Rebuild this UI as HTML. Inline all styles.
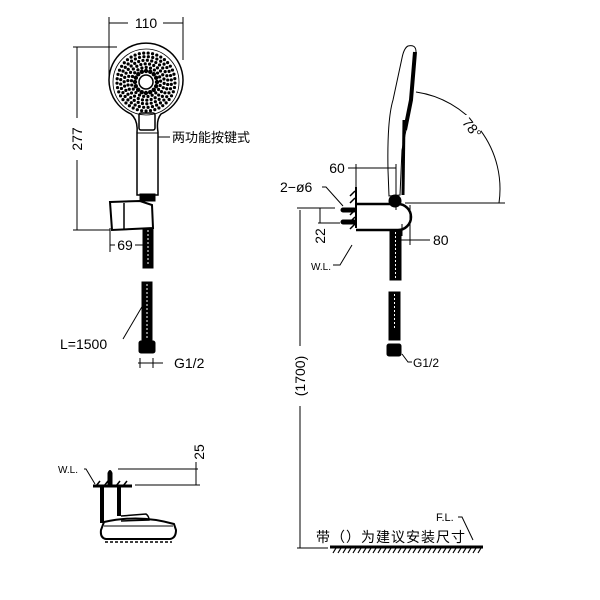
<!DOCTYPE html>
<html><head><meta charset="utf-8"><style>
html,body{margin:0;padding:0;background:#fff;width:600px;height:600px;overflow:hidden}
text{font-family:"Liberation Sans","Noto Sans CJK SC",sans-serif;fill:#000}
</style></head><body>
<svg id="s" width="600" height="600" viewBox="0 0 600 600" xmlns="http://www.w3.org/2000/svg" fill="none" stroke="#000" stroke-width="1">
<!-- FRONT VIEW -->
<line x1="109" y1="17" x2="109" y2="78"/><line x1="183" y1="17" x2="183" y2="60"/>
<line x1="109" y1="23" x2="128" y2="23"/><line x1="163" y1="23" x2="183" y2="23"/>
<text x="146" y="28" font-size="14" text-anchor="middle" stroke="none">110</text>
<line x1="73" y1="47" x2="117" y2="47"/><line x1="73" y1="230" x2="110" y2="230"/>
<line x1="77" y1="47" x2="77" y2="118"/><line x1="77" y1="160" x2="77" y2="230"/>
<text transform="translate(82,139) rotate(-90)" font-size="14" text-anchor="middle" stroke="none">277</text>
<path d="M131,114 A37,37 0 1 1 161,114 Q156,120 158,132 L158,195 L137,195 L137,132 Q138,120 131,114 Z" stroke-width="1.5"/>
<circle cx="146" cy="82" r="33" stroke-width="0.8"/>
<g id="dots" fill="#000" stroke="none"></g>
<circle cx="146" cy="82" r="7" fill="#fff" stroke-width="1.5"/>
<rect x="139" y="113" width="16" height="17" rx="2" stroke-width="1.5"/>
<line x1="137" y1="133" x2="158" y2="133"/>
<line x1="158" y1="137" x2="170" y2="137"/>
<text x="172" y="142" font-size="13" stroke="none">两功能按键式</text>
<rect x="140" y="194" width="15" height="7" fill="#000"/>
<path d="M110,202 L140,201 L152,205 L153,228 L112,230 Z" stroke-width="2"/>
<line x1="124" y1="203" x2="124" y2="229" stroke-width="1.5"/>
<rect x="143" y="228" width="10" height="40" fill="#000"/>
<line x1="148" y1="230" x2="148" y2="266" stroke="#fff" stroke-dasharray="2,2"/>
<line x1="110" y1="228" x2="110" y2="252"/><line x1="153" y1="228" x2="153" y2="252"/>
<line x1="110" y1="245" x2="115" y2="245"/><line x1="135" y1="245" x2="153" y2="245"/>
<text x="125" y="250" font-size="14" text-anchor="middle" stroke="none">69</text>
<rect x="142" y="282" width="10" height="60" fill="#000"/>
<line x1="147" y1="284" x2="147" y2="338" stroke="#fff" stroke-dasharray="2,2"/>
<rect x="139" y="341" width="16" height="12" rx="2" fill="#000"/>
<line x1="123" y1="339" x2="143" y2="305"/>
<text x="60" y="349" font-size="14" stroke="none">L=1500</text>
<line x1="140" y1="358" x2="140" y2="368"/><line x1="153" y1="358" x2="153" y2="368"/>
<line x1="138" y1="363" x2="163" y2="363"/>
<text x="174" y="368" font-size="14" stroke="none">G1/2</text>

<!-- TOP VIEW -->
<text x="58" y="473" font-size="10" stroke="none">W.L.</text>
<path d="M84,469 L86,469 L95,484"/>
<line x1="93" y1="486" x2="132" y2="486" stroke-width="3"/>
<g stroke-width="1.5"><path d="M96,486 l4,-5 M104,486 l4,-5 M116,486 l4,-5 M123,486 l4,-5"/></g>
<path d="M108,486 L108,473 Q110,468 112,473 L112,486" fill="#000"/>
<rect x="100" y="486" width="4" height="37" fill="#000" stroke="none"/>
<rect x="117" y="486" width="4" height="30" fill="#000" stroke="none"/>
<line x1="118" y1="469" x2="198" y2="469"/><line x1="135" y1="485" x2="200" y2="485"/>
<line x1="196" y1="462" x2="196" y2="485"/>
<text transform="translate(204,452) rotate(-90)" font-size="14" text-anchor="middle" stroke="none">25</text>
<path d="M121,516 L146,514 Q149,516 149,520 L121,521" stroke-width="1.5"/>
<path d="M104,522 Q140,514 174,524 L176,530 Q176,538 170,539 L106,539 Q100,538 101,530 Z" stroke-width="2"/>
<line x1="104" y1="526" x2="173" y2="526"/>
<line x1="105" y1="542" x2="172" y2="542" stroke-dasharray="3,2" stroke-width="1.5"/>

<!-- SIDE VIEW -->
<path d="M408,46 Q416,44 416,52 L412,100 L406,130 Q404,140 402,150 L400,195 L389,196 L388,170 Q387,120 393,100 L402,58 Q404,48 408,46 Z" stroke-width="1"/>
<path d="M415,52 L411,100 L405,130" stroke-width="4"/>
<path d="M404,120 L403,195" stroke-width="3"/>
<line x1="356" y1="164" x2="356" y2="190"/><line x1="396" y1="164" x2="396" y2="210"/>
<line x1="348" y1="168" x2="396" y2="168"/>
<text x="337" y="173" font-size="14" text-anchor="middle" stroke="none">60</text>
<path d="M416,92 A98,98 0 0 1 499,203" stroke-width="1"/>
<line x1="405" y1="203" x2="505" y2="203"/>
<rect x="455" y="115" width="26" height="24" fill="#fff" stroke="none"/>
<text transform="translate(468,131) rotate(52)" font-size="14" text-anchor="middle" stroke="none">78°</text>
<line x1="356" y1="187" x2="356" y2="228" stroke-width="2"/>
<g stroke-width="1.5"><path d="M350,196 l5,-5 M350,203 l5,-5 M350,215 l5,-5 M350,222 l5,-5 M350,229 l5,-5"/></g>
<path d="M356,204 L398,204 A13,13 0 0 1 398,230 L356,230" stroke-width="2.5"/>
<circle cx="395" cy="201" r="6" fill="#000"/>
<rect x="341" y="208" width="15" height="4" rx="2" fill="#000"/>
<rect x="341" y="220" width="15" height="4" rx="2" fill="#000"/>
<text x="280" y="192" font-size="14" stroke="none">2−ø6</text>
<path d="M322,187 L326,187 L343,206"/>
<line x1="402" y1="224" x2="402" y2="236"/><line x1="410" y1="205" x2="410" y2="245"/>
<line x1="400" y1="240" x2="430" y2="240"/>
<text x="433" y="245" font-size="14" stroke="none">80</text>
<line x1="297" y1="208" x2="335" y2="208"/><line x1="318" y1="223" x2="340" y2="223"/>
<line x1="320" y1="208" x2="320" y2="223"/>
<text transform="translate(325,236) rotate(-90)" font-size="14" text-anchor="middle" stroke="none">22</text>
<text x="311" y="270" font-size="10" stroke="none">W.L.</text>
<path d="M333,265 L340,265 L352,245"/>
<rect x="390" y="230" width="11" height="50" fill="#000"/>
<line x1="395.5" y1="232" x2="395.5" y2="278" stroke="#fff" stroke-dasharray="2,2"/>
<rect x="389" y="292" width="11" height="48" fill="#000"/>
<line x1="394.5" y1="294" x2="394.5" y2="330" stroke="#fff" stroke-dasharray="2,2"/>
<rect x="387" y="344" width="14" height="12" rx="2" fill="#000"/>
<path d="M402,354 L408,362 L412,362"/>
<text x="413" y="367" font-size="12" stroke="none">G1/2</text>
<line x1="300" y1="210" x2="300" y2="346"/><line x1="300" y1="406" x2="300" y2="548"/>
<line x1="297" y1="548" x2="328" y2="548"/>
<text transform="translate(305,376) rotate(-90)" font-size="14" text-anchor="middle" stroke="none">(1700)</text>
<text x="316" y="542" font-size="14" stroke="none" letter-spacing="1">带（）为建议安装尺寸</text>
<text x="436" y="521" font-size="11" stroke="none">F.L.</text>
<path d="M458,517 L462,517 L473,540"/>
<line x1="330" y1="547" x2="483" y2="547" stroke-width="3"/>
<g id="hatch" stroke-width="1.2"></g>
</svg>
<script>
var ns="http://www.w3.org/2000/svg",d=document.getElementById("dots");
for(var r=11;r<=31;r+=3.6){var n=Math.round(2*Math.PI*r/4.4);for(var i=0;i<n;i++){var a=i/n*2*Math.PI+r;var c=document.createElementNS(ns,"circle");c.setAttribute("cx",146+r*Math.cos(a));c.setAttribute("cy",82+r*Math.sin(a));c.setAttribute("r",r<14?2.2:1.6);d.appendChild(c);}}
var h=document.getElementById("hatch");
for(var x=333;x<483;x+=5){var l=document.createElementNS(ns,"line");l.setAttribute("x1",x);l.setAttribute("y1",553);l.setAttribute("x2",x+3);l.setAttribute("y2",548);h.appendChild(l);}
</script>
</body></html>
